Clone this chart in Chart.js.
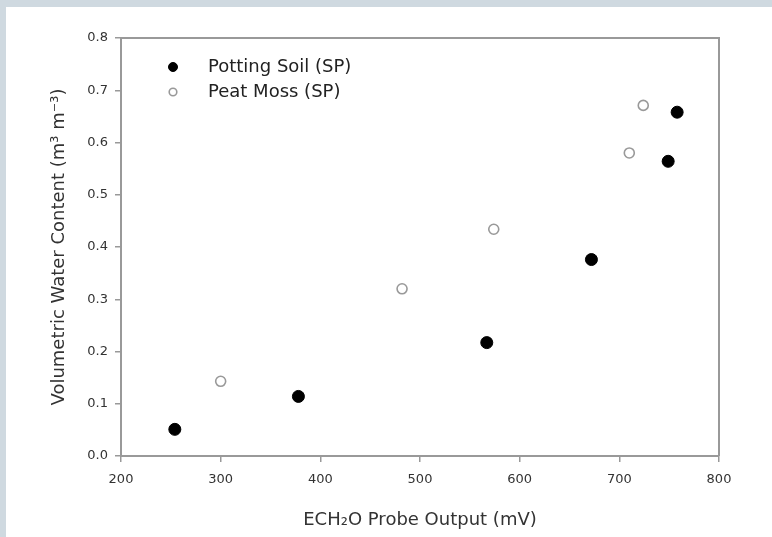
<!DOCTYPE html>
<html><head><meta charset="utf-8">
<script src="https://cdn.jsdelivr.net/npm/chart.js@4/dist/chart.umd.min.js"></script>
<style>
html,body{margin:0;padding:0;background:#cfd9e0;overflow:hidden;}
canvas{display:block;}
</style></head><body>
<canvas id="c" width="772" height="537"></canvas>
<script>
// ---- data ----
const seriesNames = ['Potting Soil (SP)', 'Peat Moss (SP)'];
const pottingX = [254, 378, 567, 672, 749, 758];
const pottingY = [0.051, 0.114, 0.217, 0.376, 0.564, 0.658];
const peatX = [300, 482, 574, 710, 724];
const peatY = [0.143, 0.320, 0.434, 0.580, 0.671];
const xTicks = [200, 300, 400, 500, 600, 700, 800];
const yTicks = [0.0, 0.1, 0.2, 0.3, 0.4, 0.5, 0.6, 0.7, 0.8];
const xTitle = 'ECH\u2082O Probe Output (mV)';
const yTitle = 'Volumetric Water Content (m\u00B3 m\u207B\u00B3)';

const FONT = '"DejaVu Sans", Verdana, sans-serif';
const toPts = (xs, ys) => xs.map((x, i) => ({x: x, y: ys[i]}));

const bgPlugin = {
  id: 'bg',
  beforeDraw(chart) {
    const ctx = chart.ctx;
    ctx.save();
    ctx.fillStyle = '#cfd9e0';
    ctx.fillRect(0, 0, chart.width, chart.height);
    ctx.fillStyle = '#ffffff';
    ctx.fillRect(6, 7, chart.width - 6, chart.height - 7);
    ctx.restore();
  }
};

const framePlugin = {
  id: 'frame',
  afterDraw(chart) {
    const {ctx, chartArea: a} = chart;
    ctx.save();
    ctx.strokeStyle = '#999';
    ctx.lineWidth = 2;
    ctx.beginPath();
    ctx.moveTo(a.left, a.top);
    ctx.lineTo(a.right, a.top);
    ctx.lineTo(a.right, a.bottom);
    ctx.stroke();
    ctx.restore();
  }
};

const legendMarkerRadius = [4.5, 3.8];
const legendPlugin = {
  id: 'innerLegend',
  afterDraw(chart) {
    const ctx = chart.ctx;
    const a = chart.chartArea;
    const mx = a.left + 52, tx = a.left + 87;
    const y0 = a.top + 29, dy = 25;
    ctx.save();
    chart.data.datasets.forEach((ds, i) => {
      const y = y0 + i * dy;
      ctx.fillStyle = ds.backgroundColor;
      ctx.strokeStyle = ds.borderColor;
      ctx.lineWidth = ds.borderWidth;
      Chart.helpers.drawPoint(ctx, {pointStyle: 'circle', radius: legendMarkerRadius[i], rotation: 0, borderWidth: ds.borderWidth}, mx, y);
      ctx.fillStyle = '#222';
      ctx.font = '18px ' + FONT;
      ctx.textAlign = 'left';
      ctx.textBaseline = 'middle';
      ctx.fillText(ds.label, tx, y);
    });
    ctx.restore();
  }
};

new Chart(document.getElementById('c'), {
  type: 'scatter',
  data: {
    datasets: [
      {label: seriesNames[0], data: toPts(pottingX, pottingY), pointStyle: 'circle', pointRadius: 6,
       backgroundColor: '#000000', borderColor: '#000000', borderWidth: 1},
      {label: seriesNames[1], data: toPts(peatX, peatY), pointStyle: 'circle', pointRadius: 5,
       backgroundColor: '#ffffff', borderColor: '#999999', borderWidth: 1.6}
    ]
  },
  options: {
    responsive: false,
    animation: false,
    devicePixelRatio: 1,
    layout: {padding: {left: 0, right: 53, top: 38, bottom: 0}},
    plugins: {legend: {display: false}, tooltip: {enabled: false}},
    scales: {
      x: {
        type: 'linear', min: xTicks[0], max: xTicks[xTicks.length - 1],
        afterBuildTicks: s => { s.ticks = xTicks.map(v => ({value: v})); },
        afterFit: s => { s.height = 81; },
        ticks: {color: '#333', font: {family: FONT, size: 13}, padding: 10, callback: v => String(v)},
        grid: {drawOnChartArea: false, drawTicks: true, tickLength: 6, color: '#999', lineWidth: 1.5},
        border: {display: true, color: '#999', width: 2},
        title: {display: true, text: xTitle, color: '#333', font: {family: FONT, size: 18}, padding: {top: 0, bottom: 6}}
      },
      y: {
        type: 'linear', min: yTicks[0], max: yTicks[yTicks.length - 1],
        afterBuildTicks: s => { s.ticks = yTicks.map(v => ({value: v})); },
        afterFit: s => { s.width = 121; },
        ticks: {color: '#333', font: {family: FONT, size: 13}, padding: 7, callback: v => Number(v).toFixed(1)},
        grid: {drawOnChartArea: false, drawTicks: true, tickLength: 6, color: '#999', lineWidth: 1.5},
        border: {display: true, color: '#999', width: 2},
        title: {display: true, text: yTitle, color: '#333', font: {family: FONT, size: 18}, padding: {top: 49, bottom: 0}}
      }
    }
  },
  plugins: [bgPlugin, framePlugin, legendPlugin]
});
</script>
</body></html>
